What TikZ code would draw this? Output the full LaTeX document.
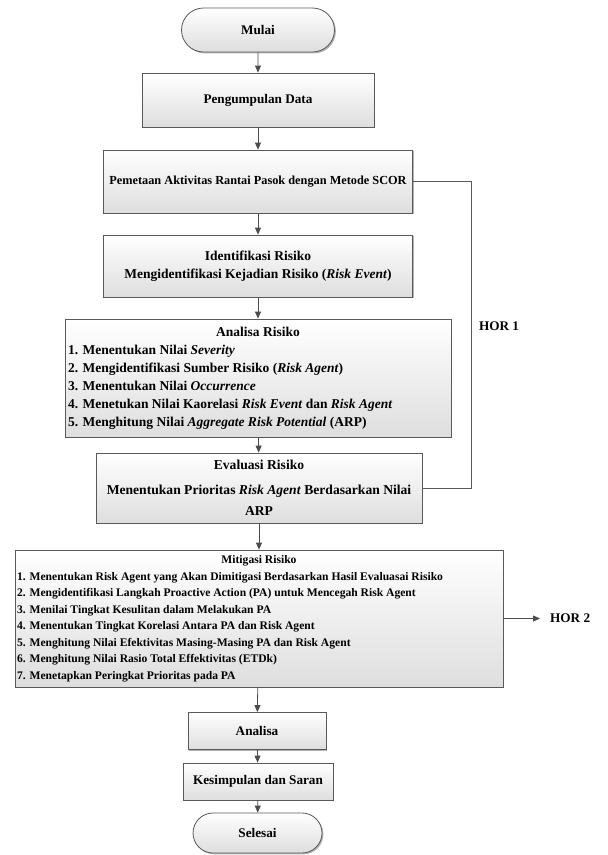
\documentclass[tikz,border=0pt]{standalone}
\usepackage{fontspec}
\setmainfont{Liberation Serif}
\usetikzlibrary{arrows.meta,shapes.misc,shadows}
\tikzset{
  boxbase/.style={draw=black!65, line width=0.8pt, top color=white, bottom color=black!13,
    drop shadow={shadow xshift=1.4pt, shadow yshift=-1.4pt, fill=black!55, opacity=0.55},
    font=\bfseries\fontsize{13.2}{16}\selectfont, inner sep=0pt},
  proc/.style={boxbase, rectangle, align=center},
  term/.style={boxbase, rounded rectangle},
  arr/.style={draw=black!70, line width=0.8pt, -{Triangle[length=7pt,width=6pt]}},
  hor/.style={draw=black!65, line width=0.8pt},
  lbl/.style={font=\bfseries\fontsize{13.2}{16}\selectfont, inner sep=0pt}
}
\begin{document}
\begin{tikzpicture}[x=1pt,y=-1pt]
\useasboundingbox[fill=white] (0,0) rectangle (608,855);

\node[term, minimum width=153pt, minimum height=44pt] (mulai) at (258,30) {Mulai};
\node[proc, minimum width=232pt, minimum height=54pt] (data) at (258,100) {Pengumpulan Data};
\node[proc, minimum width=309pt, minimum height=63pt,
  font=\bfseries\fontsize{12.3}{14}\selectfont] (scor) at (258,181.5) {Pemetaan Aktivitas Rantai Pasok dengan Metode SCOR};
\node[proc, minimum width=309pt, minimum height=62pt,
  font=\bfseries\fontsize{13.5}{16}\selectfont] (ident) at (258,266)
  {Identifikasi Risiko\\[1.5pt]Mengidentifikasi Kejadian Risiko (\textit{Risk Event})};
\node[proc, minimum width=386pt, minimum height=118pt, align=left,
  font=\bfseries\fontsize{13.5}{18}\selectfont] (anal) at (258,378)
  {\makebox[380pt][c]{Analisa Risiko}\\
   1. Menentukan Nilai \textit{Severity}\\
   2. Mengidentifikasi Sumber Risiko (\textit{Risk Agent})\\
   3. Menentukan Nilai \textit{Occurrence}\\
   4. Menetukan Nilai Kaorelasi \textit{Risk Event} dan \textit{Risk Agent}\\
   5. Menghitung Nilai \textit{Aggregate Risk Potential} (ARP)};
\node[proc, minimum width=326pt, minimum height=70pt,
  font=\bfseries\fontsize{13.6}{16}\selectfont] (eval) at (259,488)
  {Evaluasi Risiko\\[9pt]Menentukan Prioritas \textit{Risk Agent} Berdasarkan Nilai\\[5pt]ARP};
\node[proc, minimum width=488pt, minimum height=137pt, align=left,
  font=\bfseries\fontsize{11.6}{16.5}\selectfont] (mitig) at (259,618.5)
  {\makebox[484pt][c]{Mitigasi Risiko}\\
   1. Menentukan Risk Agent yang Akan Dimitigasi Berdasarkan Hasil Evaluasai Risiko\\
   2. Mengidentifikasi Langkah Proactive Action (PA) untuk Mencegah Risk Agent\\
   3. Menilai Tingkat Kesulitan dalam Melakukan PA\\
   4. Menentukan Tingkat Korelasi Antara PA dan Risk Agent\\
   5. Menghitung Nilai Efektivitas Masing-Masing PA dan Risk Agent\\
   6. Menghitung Nilai Rasio Total Effektivitas (ETDk)\\
   7. Menetapkan Peringkat Prioritas pada PA};
\node[proc, minimum width=138pt, minimum height=37pt] (analisa) at (257,731) {Analisa};
\node[proc, minimum width=150pt, minimum height=37pt] (kesim) at (258,781.5) {Kesimpulan dan Saran};
\node[term, minimum width=129pt, minimum height=40pt] (selesai) at (257.5,833) {Selesai};

\draw[arr] (mulai) -- (data);
\draw[arr] (data) -- (scor);
\draw[arr] (scor) -- (ident);
\draw[arr] (ident) -- (anal);
\draw[arr] (anal) -- (eval);
\draw[arr] (eval) -- (mitig);
\draw[arr] (mitig) -- (analisa);
\draw[arr] (analisa) -- (kesim);
\draw[arr] (kesim) -- (selesai);

\coordinate (hx) at (471,0);
\draw[hor] (scor.east) -- (scor.east -| hx) -- (eval.east -| hx) -- (eval.east);
\node[lbl] (hor1) at (499,326) {HOR 1};

\coordinate (h2) at (540,0);
\draw[arr] (mitig.east) -- (mitig.east -| h2);
\node[lbl, anchor=west] (hor2) at (550,618.5) {HOR 2};
\end{tikzpicture}
\end{document}
